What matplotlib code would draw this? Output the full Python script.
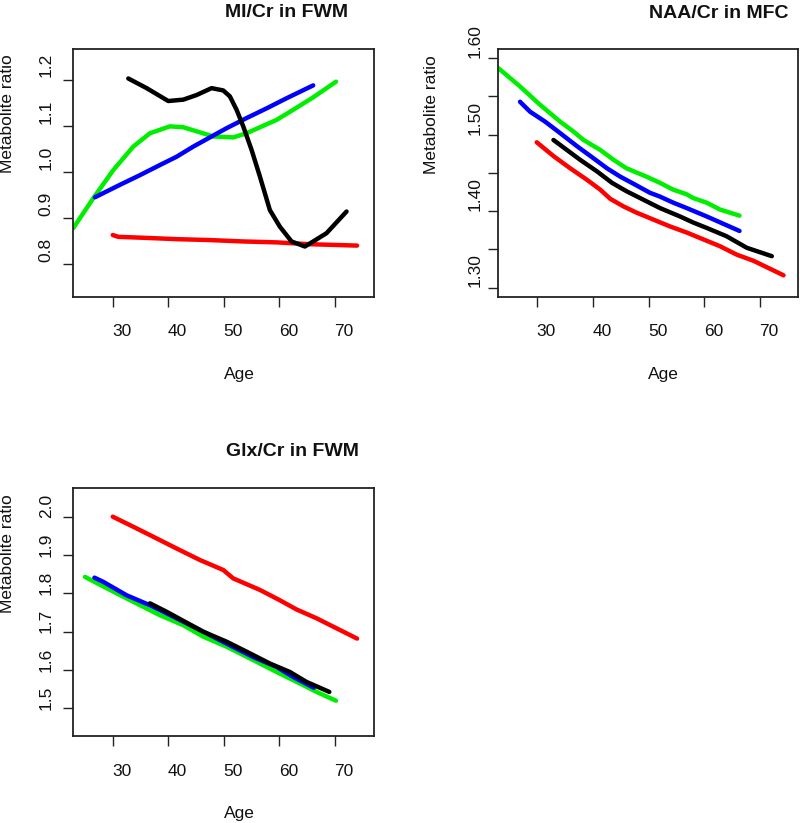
import matplotlib
matplotlib.use("Agg")
import matplotlib.pyplot as plt

plt.rcParams['font.family'] = ['Liberation Sans', 'DejaVu Sans']

# ---------------- data ----------------
# Panel 1: MI/Cr in FWM
mi_red_age = [30.0, 31.0, 35.5, 41.5, 47.5, 53.5, 59.5, 65.5, 74.0]
mi_red_val = [0.863, 0.859, 0.857, 0.854, 0.852, 0.849, 0.847, 0.843, 0.840]
mi_green_age = [22.9, 26.5, 30.1, 33.7, 36.7, 40.3, 42.7, 45.7, 48.1, 51.7, 54.1, 56.5, 59.5, 62.5, 66.1, 70.2]
mi_green_val = [0.878, 0.943, 1.004, 1.055, 1.084, 1.099, 1.097, 1.086, 1.077, 1.075, 1.084, 1.097, 1.113, 1.135, 1.162, 1.196]
mi_blue_age = [26.8, 31.3, 34.9, 38.5, 41.5, 44.5, 47.5, 50.5, 54.1, 57.7, 61.3, 66.1]
mi_blue_val = [0.945, 0.972, 0.993, 1.015, 1.033, 1.055, 1.075, 1.095, 1.117, 1.138, 1.160, 1.188]
mi_black_age = [32.8, 36.1, 40.0, 42.7, 45.1, 47.8, 49.9, 51.1, 52.3, 53.5, 55.0, 56.5, 58.3, 60.1, 62.2, 64.6, 66.1, 68.5, 72.1]
mi_black_val = [1.203, 1.182, 1.154, 1.157, 1.167, 1.182, 1.177, 1.164, 1.135, 1.099, 1.048, 0.990, 0.917, 0.881, 0.849, 0.838, 0.849, 0.867, 0.914]

# Panel 2: NAA/Cr in MFC
naa_red_age = [29.9, 32.9, 35.9, 38.9, 41.3, 43.1, 45.5, 47.8, 50.8, 53.8, 56.8, 59.8, 62.8, 65.8, 68.8, 74.2]
naa_red_val = [1.490, 1.472, 1.456, 1.441, 1.428, 1.416, 1.406, 1.398, 1.389, 1.380, 1.372, 1.363, 1.354, 1.343, 1.335, 1.316]
naa_green_age = [23.0, 26.9, 30.5, 34.1, 36.5, 38.3, 41.3, 43.7, 46.0, 49.6, 52.0, 54.4, 56.8, 58.0, 60.4, 62.8, 66.3]
naa_green_val = [1.587, 1.563, 1.539, 1.517, 1.504, 1.493, 1.480, 1.467, 1.456, 1.445, 1.437, 1.428, 1.422, 1.417, 1.411, 1.402, 1.394]
naa_blue_age = [26.9, 28.7, 31.4, 34.1, 37.1, 40.1, 42.5, 44.9, 47.2, 50.2, 52.0, 54.4, 56.8, 60.4, 66.3]
naa_blue_val = [1.543, 1.530, 1.517, 1.502, 1.485, 1.469, 1.456, 1.445, 1.436, 1.424, 1.419, 1.411, 1.404, 1.393, 1.374]
naa_black_age = [32.9, 35.3, 37.7, 40.7, 43.4, 46.0, 49.0, 52.0, 55.6, 58.0, 60.4, 64.0, 67.6, 72.1]
naa_black_val = [1.493, 1.480, 1.467, 1.452, 1.437, 1.426, 1.415, 1.404, 1.393, 1.385, 1.378, 1.367, 1.352, 1.341]

# Panel 3: Glx/Cr in FWM
glx_red_age = [30.0, 33.1, 36.7, 41.5, 45.7, 49.9, 51.7, 56.5, 60.1, 63.1, 66.7, 74.0]
glx_red_val = [2.000, 1.978, 1.952, 1.917, 1.887, 1.861, 1.839, 1.809, 1.782, 1.758, 1.735, 1.682]
glx_green_age = [25.0, 29.5, 33.7, 38.5, 42.7, 46.3, 50.5, 55.3, 59.5, 63.7, 66.7, 70.2]
glx_green_val = [1.843, 1.809, 1.778, 1.743, 1.717, 1.687, 1.661, 1.626, 1.595, 1.565, 1.543, 1.520]
glx_blue_age = [26.7, 28.3, 32.5, 36.7, 41.5, 46.3, 50.5, 55.3, 59.5, 62.5, 66.2]
glx_blue_val = [1.841, 1.830, 1.795, 1.769, 1.735, 1.700, 1.669, 1.634, 1.608, 1.582, 1.554]
glx_black_age = [36.7, 39.7, 43.0, 46.3, 50.5, 54.1, 58.3, 61.9, 64.9, 69.0]
glx_black_val = [1.774, 1.752, 1.726, 1.700, 1.674, 1.648, 1.617, 1.595, 1.569, 1.543]

age_ticks = [30, 40, 50, 60, 70]
age_tick_labels = ["30", "40", "50", "60", "70"]
mi_ticks = [0.8, 0.9, 1.0, 1.1, 1.2]
mi_tick_labels = ["0.8", "0.9", "1.0", "1.1", "1.2"]
naa_ticks = [1.30, 1.35, 1.40, 1.45, 1.50, 1.55, 1.60]
naa_tick_labels = ["1.30", "", "1.40", "", "1.50", "", "1.60"]
glx_ticks = [1.5, 1.6, 1.7, 1.8, 1.9, 2.0]
glx_tick_labels = ["1.5", "1.6", "1.7", "1.8", "1.9", "2.0"]

titles = ["MI/Cr in FWM", "NAA/Cr in MFC", "Glx/Cr in FWM"]
ylab = "Metabolite ratio"
xlab = "Age"

# ---------------- layout ----------------
W, H = 800, 823
fig = plt.figure(figsize=(W / 100, H / 100), dpi=100)


def add_axes_px(l, r, t, b):
    return fig.add_axes([l / W, 1 - b / H, (r - l) / W, (b - t) / H])


def ftext(x, y, s, **kw):
    fig.text(x / W, 1 - y / H, s, **kw)


RED, GREEN, BLUE, BLACK = "#ff0000", "#00ee00", "#0000ff", "#000000"
LW = 3.2
TICKFS = 12.5


def style(ax, xlim, ylim, yticks, ylabels, ydx, ydy, xdy):
    ax.set_xlim(*xlim)
    ax.set_ylim(*ylim)
    ax.set_xticks(age_ticks, labels=[""] * len(age_ticks))
    ax.set_yticks(yticks, labels=[""] * len(yticks))
    ax.tick_params(direction="out", length=7.5, width=1.0, color="#222222")
    for sp in ax.spines.values():
        sp.set_linewidth(1.3)
        sp.set_color("#222222")
    for t, s in zip(age_ticks, age_tick_labels):
        ax.annotate(s, xy=(t, 0), xycoords=ax.get_xaxis_transform(),
                    xytext=(9, xdy), textcoords="offset pixels",
                    ha="center", va="center", fontsize=TICKFS, color="#111111")
    for t, s in zip(yticks, ylabels):
        if s:
            ax.annotate(s, xy=(0, t), xycoords=ax.get_yaxis_transform(),
                        xytext=(ydx, ydy), textcoords="offset pixels",
                        ha="center", va="center", rotation=90,
                        fontsize=TICKFS, color="#111111")


# Panel 1
ax1 = add_axes_px(73.3, 374.3, 49, 296.7)
ax1.plot(mi_red_age, mi_red_val, color=RED, lw=LW, solid_capstyle="round")
ax1.plot(mi_green_age, mi_green_val, color=GREEN, lw=LW, solid_capstyle="round")
ax1.plot(mi_blue_age, mi_blue_val, color=BLUE, lw=LW, solid_capstyle="round")
ax1.plot(mi_black_age, mi_black_val, color=BLACK, lw=LW, solid_capstyle="round")
style(ax1, (22.9, 77.1), (0.729, 1.267), mi_ticks, mi_tick_labels, -27, 14.5, -35)

# Panel 2
ax2 = add_axes_px(498.3, 798, 49, 296.7)
ax2.plot(naa_red_age, naa_red_val, color=RED, lw=LW, solid_capstyle="round")
ax2.plot(naa_green_age, naa_green_val, color=GREEN, lw=LW, solid_capstyle="round")
ax2.plot(naa_blue_age, naa_blue_val, color=BLUE, lw=LW, solid_capstyle="round")
ax2.plot(naa_black_age, naa_black_val, color=BLACK, lw=LW, solid_capstyle="round")
style(ax2, (23.0, 76.8), (1.288, 1.612), naa_ticks, naa_tick_labels, -23, 17, -35)

# Panel 3
ax3 = add_axes_px(73.3, 374.3, 488.3, 736)
ax3.plot(glx_red_age, glx_red_val, color=RED, lw=LW, solid_capstyle="round")
ax3.plot(glx_green_age, glx_green_val, color=GREEN, lw=LW, solid_capstyle="round")
ax3.plot(glx_blue_age, glx_blue_val, color=BLUE, lw=LW, solid_capstyle="round")
ax3.plot(glx_black_age, glx_black_val, color=BLACK, lw=LW, solid_capstyle="round")
style(ax3, (22.9, 77.1), (1.428, 2.074), glx_ticks, glx_tick_labels, -27, 10.5, -36)

# Titles and axis labels
tkw = dict(ha="center", va="baseline", fontsize=14, fontweight="bold", color="#111111")
ftext(286.7, 17, titles[0], **tkw)
ftext(719, 17.5, titles[1], **tkw)
ftext(292, 455.5, titles[2], **tkw)

ykw = dict(ha="center", va="center", rotation=90, fontsize=12.5, color="#111111")
ftext(8, 114, ylab, **ykw)
ftext(432, 115, ylab, **ykw)
ftext(8, 554, ylab, **ykw)

xkw = dict(ha="center", va="baseline", fontsize=12.5, color="#111111")
ftext(239, 379, xlab, **xkw)
ftext(663, 379, xlab, **xkw)
ftext(239, 818, xlab, **xkw)

fig.savefig("out.png", dpi=100)
